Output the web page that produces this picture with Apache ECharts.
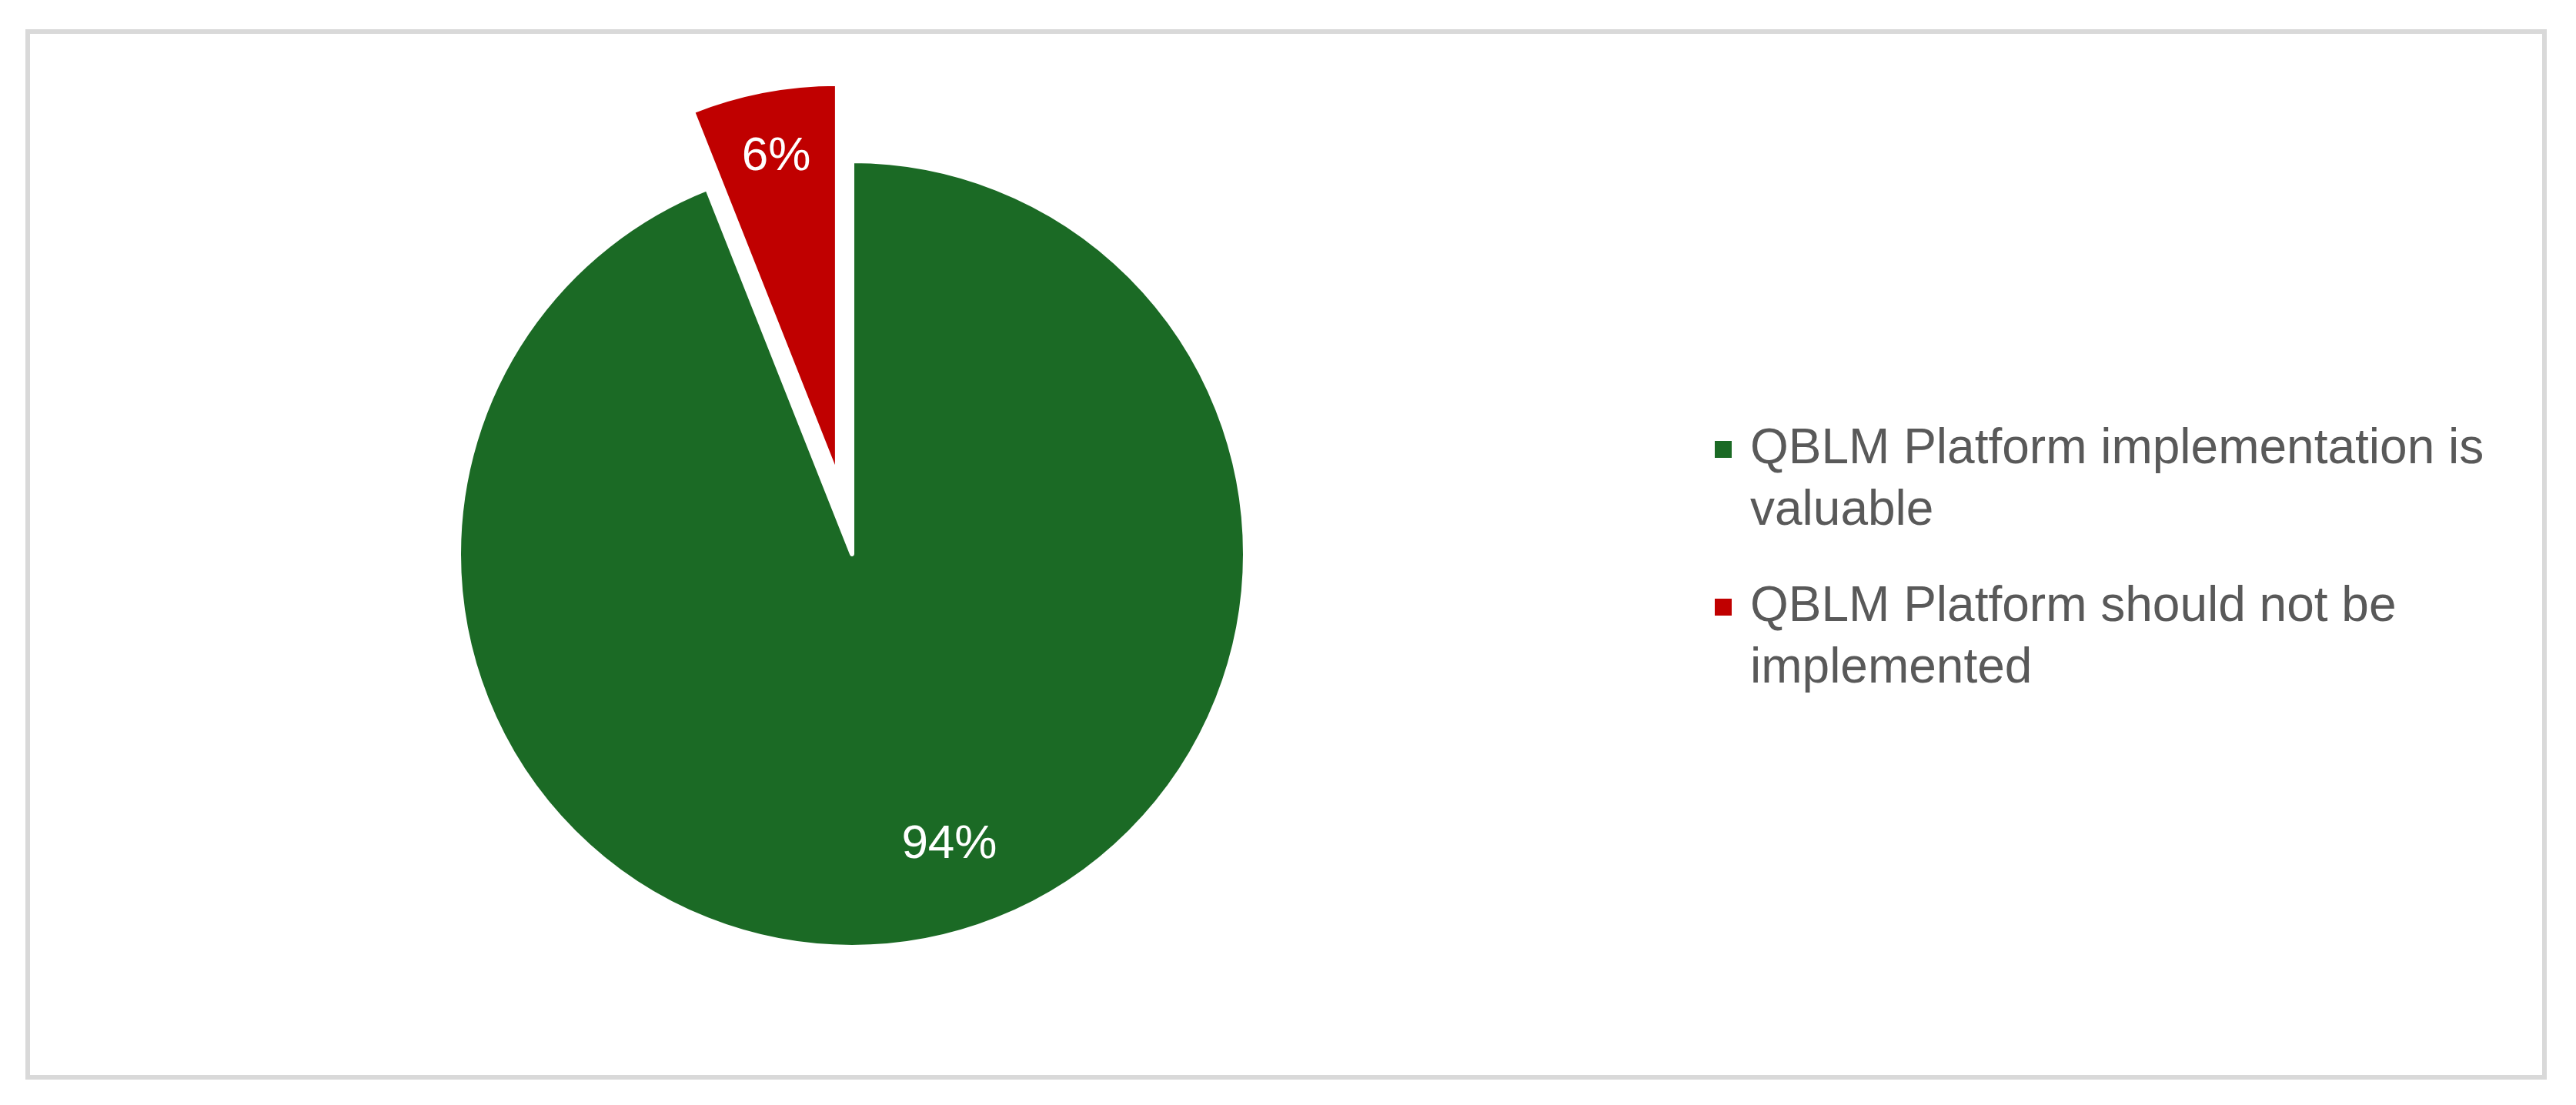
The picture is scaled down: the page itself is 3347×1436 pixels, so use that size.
<!DOCTYPE html>
<html>
<head>
<meta charset="utf-8">
<script src="https://cdn.jsdelivr.net/npm/echarts@6/dist/echarts.min.js"></script>
<style>
  html, body { margin: 0; padding: 0; background: #ffffff; }
  #chart { width: 3347px; height: 1436px; }
</style>
</head>
<body>
<div id="chart"></div>
<script>
const categories = [
  'QBLM Platform implementation is valuable',
  'QBLM Platform should not be implemented'
];
const seriesValues = [94, 6];
const valueLabels = ['94%', '6%'];
const sliceColors = ['#1B6A25', '#C00000'];

const labelShift = [
  { dx: 78, dy: 124 },
  { dx: -31, dy: -162 }
];

const chart = echarts.init(document.getElementById('chart'), null, { renderer: 'canvas' });

const data = categories.map((name, i) => ({
  name: name,
  value: seriesValues[i],
  selected: i === 1,
  itemStyle: { color: sliceColors[i] }
}));

// legend marker: 24px square at the top line of a 24x160 icon box
const legendIcon = 'path://M0,0L0,0M0,160L0,160M0,28L24,28L24,52L0,52Z';

chart.setOption({
  animation: false,
  backgroundColor: '#ffffff',
  graphic: [{
    type: 'rect',
    shape: { x: 36, y: 41, width: 3270, height: 1359 },
    style: { fill: 'none', stroke: '#D9D9D9', lineWidth: 6 },
    silent: true,
    z: -10
  }],
  legend: {
    orient: 'vertical',
    left: 2221,
    top: 538,
    itemWidth: 24,
    itemHeight: 160,
    itemGap: 43,
    icon: legendIcon,
    selectedMode: false,
    data: categories,
    textStyle: {
      fontFamily: 'Liberation Sans',
      fontSize: 64,
      lineHeight: 80,
      color: '#595959',
      width: 1000,
      overflow: 'break',
      padding: [0, 0, 0, 18]
    }
  },
  series: [{
    type: 'pie',
    center: [1107, 720],
    radius: 511,
    startAngle: 90,
    clockwise: true,
    selectedMode: 'single',
    selectedOffset: 102,
    avoidLabelOverlap: false,
    itemStyle: { borderColor: '#ffffff', borderWidth: 6 },
    emphasis: { disabled: true },
    select: { disabled: false, itemStyle: { borderColor: '#ffffff', borderWidth: 6 } },
    label: {
      show: true,
      position: 'inside',
      formatter: (p) => valueLabels[p.dataIndex],
      color: '#ffffff',
      fontFamily: 'Liberation Sans',
      fontSize: 62
    },
    labelLine: { show: false },
    labelLayout: (p) => labelShift[p.dataIndex],
    data: data
  }]
});
</script>
</body>
</html>
